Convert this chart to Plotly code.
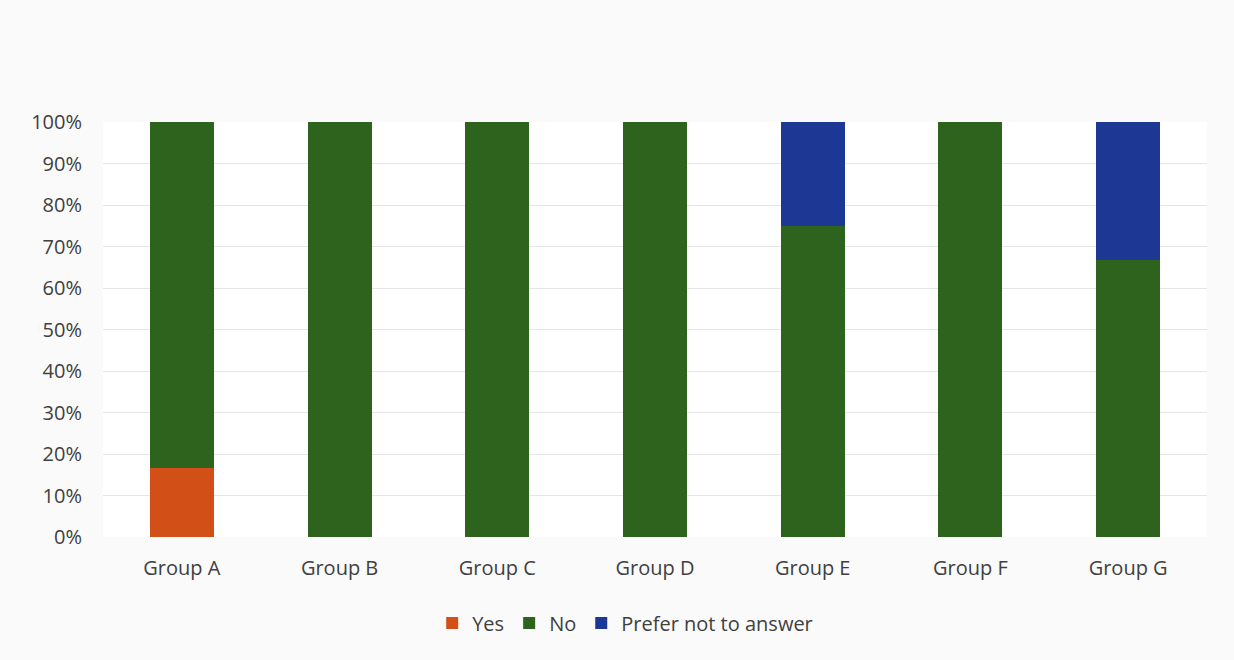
import plotly.graph_objects as go

groups = ["Group A", "Group B", "Group C", "Group D", "Group E", "Group F", "Group G"]
yes = [0.167, 0, 0, 0, 0, 0, 0]
no = [0.833, 1.0, 1.0, 1.0, 0.75, 1.0, 0.667]
prefer = [0, 0, 0, 0, 0.25, 0, 0.333]

series = [("Yes", yes, "#D34F18"), ("No", no, "#2E631D"), ("Prefer not to answer", prefer, "#1C3894")]

fig = go.Figure()
for name, vals, col in series:
    fig.add_trace(go.Bar(x=groups, y=vals, name=name, marker=dict(color=col, line=dict(width=0)),
                         width=0.405))

font = "'Open Sans', sans-serif"
fig.update_layout(
    barmode="stack",
    width=1234, height=660,
    margin=dict(l=103, r=27, t=122, b=123),
    paper_bgcolor="#fafafa", plot_bgcolor="#ffffff",
    font=dict(family=font, size=20, color="#404040"),
    xaxis=dict(showgrid=False, showline=False, ticks="", tickfont=dict(size=20, color="#404040"),
               range=[-0.5, 6.5], ticklabelstandoff=17),
    yaxis=dict(range=[0, 1], tickvals=[i / 10 for i in range(11)], tickformat=".0%",
               gridcolor="#e6e6e6", gridwidth=1, zeroline=False, showline=False,
               tickfont=dict(size=20, color="#404040"), ticklabelstandoff=20),
    legend=dict(orientation="h", x=0.473, xanchor="center", y=-0.16, yanchor="top",
                font=dict(size=20, color="#404040"), bgcolor="rgba(0,0,0,0)",
                traceorder="normal", itemwidth=30, tracegroupgap=0),
    bargap=0.595,
)
fig.write_html("out.html")
